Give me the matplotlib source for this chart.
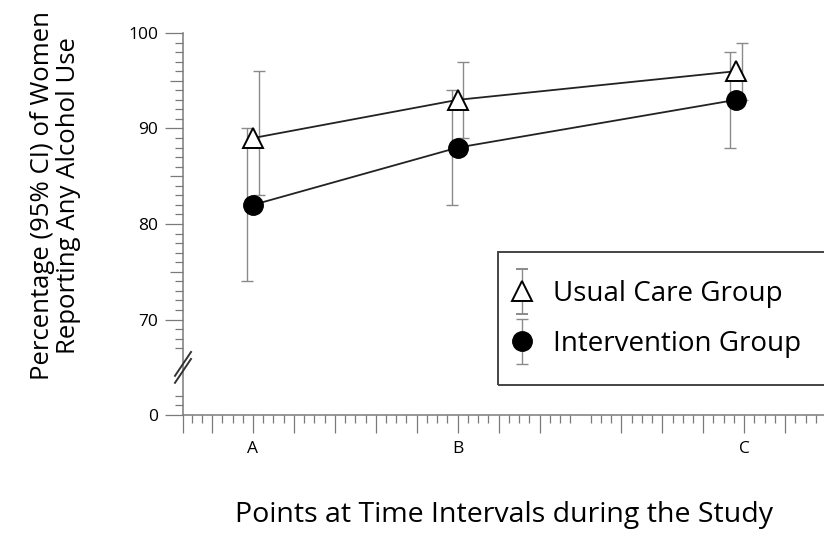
import numpy as np
import matplotlib
matplotlib.use("Agg")
import matplotlib.pyplot as plt
from matplotlib.legend_handler import HandlerErrorbar
from matplotlib.patches import Rectangle

plt.rcParams['font.family'] = ['Open Sans', 'DejaVu Sans']

# Datos
etiquetas = ['A', 'B', 'C']
pos_etiquetas = [2, 7, 14]          # posición de las letras en el eje x
tiempo_x = [2, 7, 13.8]             # posición de los puntos

usual = [89, 93, 96]
usual_lo = [83, 89, 93]
usual_hi = [96, 97, 99]

interv = [82, 88, 93]
interv_lo = [74, 82, 88]
interv_hi = [90, 94, 98]

gris = '#8a8a8a'
gris_eje = '#7a7a7a'

fig = plt.figure(figsize=(8.24, 5.36), dpi=100)
ax = fig.add_axes([183/824, 121/536, 641/824, 382/536])

x = np.array(tiempo_x)
desp = 0.14  # las barras de error están desplazadas del marcador

# Barras de error (IC 95%)
u = np.array(usual)
ax.errorbar(x + desp, u, yerr=[u - np.array(usual_lo), np.array(usual_hi) - u],
            fmt='none', ecolor=gris, elinewidth=1.0, capsize=4.5, capthick=1.0, zorder=2)
i = np.array(interv)
ax.errorbar(x - desp, i, yerr=[i - np.array(interv_lo), np.array(interv_hi) - i],
            fmt='none', ecolor=gris, elinewidth=1.0, capsize=4.5, capthick=1.0, zorder=2)

# Líneas y marcadores
ax.plot(x, usual, c='#222222', lw=1.3, marker='^', ms=14, mfc='white', mec='black', mew=1.4, zorder=4)
ax.plot(x, interv, c='#222222', lw=1.3, marker='o', ms=14, mfc='black', mec='black', zorder=4)

# Eje y con corte: 60 se muestra como 0
ax.set_ylim(60, 100)
ax.set_yticks([60, 70, 80, 90, 100])
ax.set_yticklabels(['0', '70', '80', '90', '100'])
menores_y = [61, 62] + [v for v in range(67, 100) if v % 10 != 0]
ax.set_yticks(menores_y, minor=True)

# Eje x
ax.set_xlim(0.29, 15.95)
mayores_x = [0.29] + [v for v in range(1, 16) if v != 10]
ax.set_xticks(mayores_x)
ax.set_xticklabels([etiquetas[pos_etiquetas.index(v)] if v in pos_etiquetas else '' for v in mayores_x])
menores_x = [v / 4 for v in range(2, 64) if v % 4 != 0]
ax.set_xticks(menores_x, minor=True)

for s in ['top', 'right']:
    ax.spines[s].set_visible(False)
for s in ['left', 'bottom']:
    ax.spines[s].set_color(gris_eje)
    ax.spines[s].set_linewidth(1.1)

ax.tick_params(which='major', length=13, width=0.9, color=gris_eje, labelsize=12.5, pad=5)
ax.tick_params(which='minor', length=5.8, width=0.9, color=gris_eje)
ax.tick_params(axis='x', which='major', pad=6)

# marcas intermedias en 75, 85, 95
for t, loc in zip(ax.yaxis.get_minor_ticks(), menores_y):
    if loc % 5 == 0:
        t.tick1line.set_markersize(9.4)

# Marcas de corte //
tr = ax.get_yaxis_transform()
for yc in [65.35, 64.62]:
    ax.plot([-0.0125, 0.0125], [yc - 1.25, yc + 1.25], transform=tr, c='#333333', lw=1.4, clip_on=False, zorder=5)

# Textos de los ejes
fig.text(0.067, 0.635, 'Percentage (95% CI) of Women\nReporting Any Alcohol Use',
         rotation=90, ha='center', va='center', multialignment='center', fontsize=18.5, linespacing=1.06)
fig.text(0.6117, 0.039, 'Points at Time Intervals during the Study', ha='center', va='center', fontsize=20.5)

# Leyenda
h1 = ax.errorbar([np.nan], [np.nan], yerr=[1], fmt='^', ms=14, mfc='white', mec='black', mew=1.4,
                 ecolor=gris, elinewidth=1.0, capsize=4.5)
h2 = ax.errorbar([np.nan], [np.nan], yerr=[1], fmt='o', ms=14, mfc='black', mec='black',
                 ecolor=gris, elinewidth=1.0, capsize=4.5)
leg = fig.legend([h1, h2], ['Usual Care Group', 'Intervention Group'],
                 handler_map={type(h1): HandlerErrorbar(yerr_size=0.81, numpoints=1)},
                 loc='center left', bbox_to_anchor=(509/824, 1 - 319/536), frameon=False,
                 fontsize=20, borderpad=0, borderaxespad=0, handlelength=0.95,
                 handletextpad=0.62, labelspacing=0.8)
fig.add_artist(Rectangle((498/824, 1 - 385/536), 340/824, 133/536, transform=fig.transFigure,
                         fill=False, ec='#444444', lw=1.4))

fig.savefig('out.png', dpi=100, facecolor='white')
